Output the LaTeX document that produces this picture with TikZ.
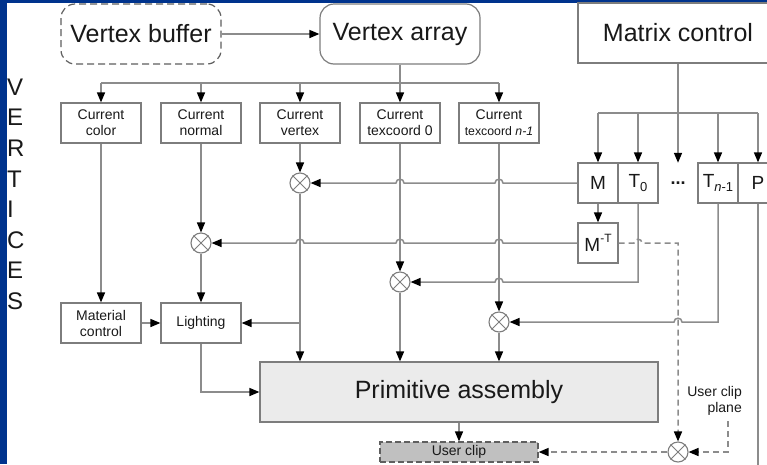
\documentclass[tikz,border=0pt]{standalone}
\usepackage{fontspec}
\setmainfont{Liberation Sans}
\usetikzlibrary{arrows.meta,calc}
\definecolor{bgblue}{RGB}{0,51,141}
\definecolor{ln}{RGB}{140,140,140}
\definecolor{bx}{RGB}{125,125,125}
\definecolor{txt}{RGB}{25,25,25}
\definecolor{pafill}{RGB}{235,235,235}
\definecolor{ucfill}{RGB}{192,192,192}
\definecolor{dashc}{RGB}{95,95,95}
\begin{document}
\begin{tikzpicture}[x=1pt,y=-1pt,
  font=\fontsize{14}{16}\selectfont,
  box/.style={draw=bx, line width=1.2pt, fill=white, inner sep=0pt, align=center, text=txt},
  big/.style={font=\fontsize{25}{30}\selectfont},
  smallbox/.style={box, minimum width=80pt, minimum height=40pt},
  mbox/.style={box, minimum width=40pt, minimum height=40pt, font=\fontsize{19}{22}\selectfont},
  mult/.style={circle, draw=bx, line width=1.1pt, fill=white, minimum size=20pt, inner sep=0pt},
  conn/.style={draw=ln, line width=1.5pt},
  arr/.style={conn, -{Triangle[length=10pt,width=8pt,color=black]}},
  dline/.style={dash pattern=on 6pt off 4pt},
]
\fill[bgblue] (0,0) rectangle (767,464);
\fill[white] (7,3) rectangle (767,464);
\useasboundingbox (0,0) rectangle (767,464);
\clip (0,0) rectangle (767,464);

% left vertical label
\foreach \L [count=\i from 0] in {V,E,R,T,I,C,E,S}
  \node[anchor=west, font=\fontsize{24}{24}\selectfont, text=txt, inner sep=0pt] (vl\i) at (7,87+30.6*\i) {\L};

% top boxes
\node[box, big, rounded corners=14pt, draw=dashc, dash pattern=on 7pt off 4pt, minimum width=160pt, minimum height=60pt] (vb) at (141,34) {Vertex buffer};
\node[box, big, rounded corners=14pt, minimum width=160pt, minimum height=60pt] (va) at (400,34) {Vertex array};
\node[box, big, minimum width=200pt, minimum height=60pt] (mc) at (678,33) {Matrix control};

% current boxes
\node[smallbox] (cc) at (101,123) {Current\\color};
\node[smallbox] (cn) at (201,123) {Current\\normal};
\node[smallbox] (cv) at (300,123) {Current\\vertex};
\node[smallbox] (t0) at (400,123) {Current\\texcoord 0};
\node[smallbox] (tn) at (499,123) {Current\\{\fontsize{12.3}{16}\selectfont texcoord \textit{n-1}}};

% matrix row
\node[mbox] (M) at (598,183) {M};
\node[mbox] (T0) at (638,183) {T\raisebox{-0.35ex}{\fontsize{13}{13}\selectfont 0}};
\node[inner sep=0pt, minimum size=40pt, font=\fontsize{18}{20}\selectfont\bfseries, text=txt] (dots) at (678,183) {...};
\node[mbox] (Tn) at (718,183) {T\raisebox{-0.35ex}{\fontsize{13}{13}\selectfont\textit{n}-1}};
\node[mbox] (P) at (758,183) {P};
\node[mbox] (Minv) at (598,243) {M\raisebox{0.85ex}{\fontsize{12}{12}\selectfont -T}};

% multipliers
\node[mult] (mx1) at (300,183) {};
\node[mult] (mx2) at (201,243) {};
\node[mult] (mx3) at (400,282) {};
\node[mult] (mx4) at (499,322) {};
\node[mult] (mx5) at (678,452) {};

% lower boxes
\node[smallbox] (mat) at (101,323) {Material\\control};
\node[smallbox] (lt) at (201,323) {Lighting};
\node[box, big, fill=pafill, minimum width=398pt, minimum height=60pt] (pa) at (459,392) {Primitive assembly};
\node[box, fill=ucfill, draw=dashc, dash pattern=on 6pt off 3pt, minimum width=158pt, minimum height=20pt] (uc) at (459,452) {User clip};
\node[align=right, anchor=east, text=txt, inner sep=0pt] (ucp) at (742,401) {User clip\\plane};

% buses
\coordinate (bus) at (400,83);
\draw[arr] (vb.east) -- (va.west);
\draw[conn] (va.south) -- (bus);
\draw[conn] (bus -| cc.north) -- (bus -| tn.north);
\foreach \n in {cc,cn,cv,t0,tn} \draw[arr] (bus -| \n.north) -- (\n.north);

\coordinate (mbus) at (678,113);
\draw[conn] (mc.south) -- (mbus);
\draw[conn] (mbus -| M.north) -- (mbus -| P.north);
\foreach \n in {M,T0,dots,Tn,P} \draw[arr] (mbus -| \n.north) -- (\n.north);

% verticals
\draw[arr] (cc.south) -- (mat.north);
\draw[arr] (cn.south) -- (mx2.north);
\draw[arr] (mx2.south) -- (lt.north);
\draw[arr] (cv.south) -- (mx1.north);
\draw[arr] (mx1.south) -- (mx1.south |- pa.north);
\draw[arr] (t0.south) -- (mx3.north);
\draw[arr] (mx3.south) -- (mx3.south |- pa.north);
\draw[arr] (tn.south) -- (mx4.north);
\draw[arr] (mx4.south) -- (mx4.south |- pa.north);
\draw[arr] (mx1.south |- lt.east) -- (lt.east);
\draw[arr] (mat.east) -- (lt.west);
\draw[arr] (lt.south) |- (pa.west);
\draw[arr] (M.south) -- (Minv.north);
\draw[arr] (pa.south) -- (uc.north);
\coordinate (pend) at (758,470);
\draw[conn] (P.south) -- (pend);

% horizontals with hops
\draw[arr] (M.west) -- (503,183) .. controls (503,178) and (495,178) .. (495,183)
  -- (404,183) .. controls (404,178) and (396,178) .. (396,183) -- (mx1.east);
\draw[arr] (Minv.west) -- (503,243) .. controls (503,238) and (495,238) .. (495,243)
  -- (404,243) .. controls (404,238) and (396,238) .. (396,243)
  -- (304,243) .. controls (304,238) and (296,238) .. (296,243) -- (mx2.east);
\draw[arr] (T0.south) -- (638,282) -- (503,282) .. controls (503,277) and (495,277) .. (495,282) -- (mx3.east);
\draw[arr] (Tn.south) -- (718,322) -- (682,322) .. controls (682,317) and (674,317) .. (674,322) -- (mx4.east);

% dashed clip paths
\draw[arr, dline] (Minv.east) -- (634,243) .. controls (634,238) and (642,238) .. (642,243) -- (678,243) -- (mx5.north);
\coordinate (ucpb) at (728,421);
\draw[arr, dline] (ucpb) |- (mx5.east);
\draw[arr, dline] (mx5.west) -- (uc.east);

% crosses in multipliers
\foreach \n in {mx1,mx2,mx3,mx4,mx5}
  \draw[bx, line width=1pt] (\n.45) -- (\n.225) (\n.135) -- (\n.315);
\end{tikzpicture}
\end{document}
